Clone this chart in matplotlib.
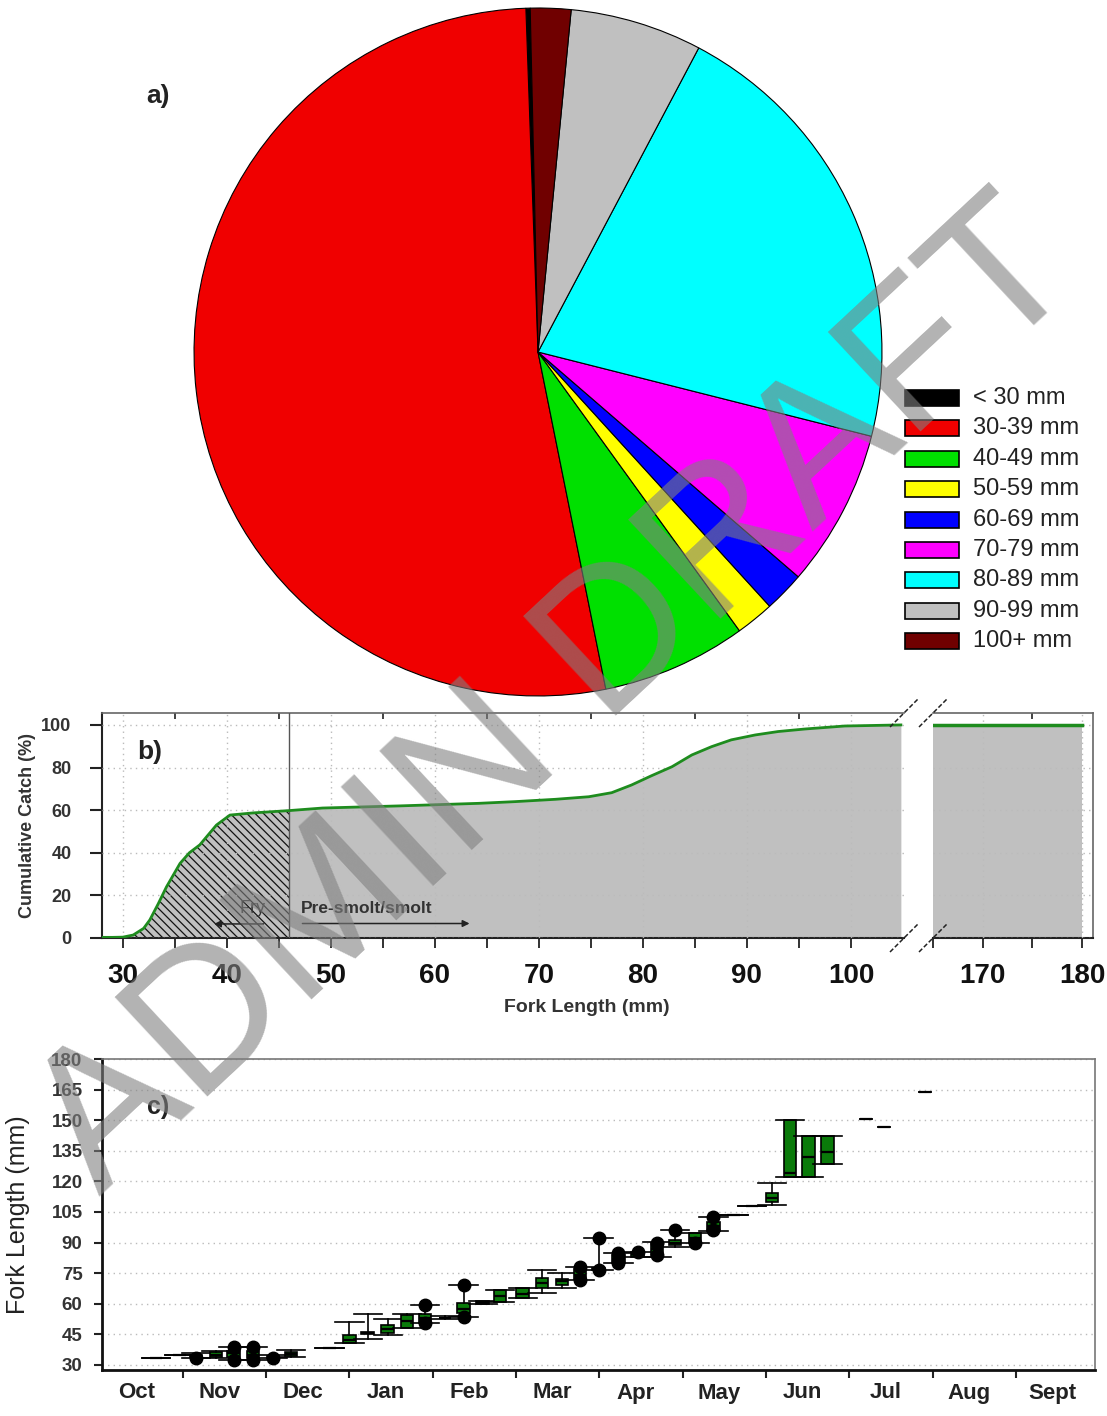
import numpy as np
import matplotlib
matplotlib.use("Agg")
import matplotlib.pyplot as plt
from matplotlib.patches import Rectangle

plt.rcParams['font.family'] = ['Liberation Sans', 'DejaVu Sans']
plt.rcParams['hatch.linewidth'] = 0.9

# ---------------- data ----------------
# a) size-class composition (%)
size_labels = ["< 30 mm", "30-39 mm", "40-49 mm", "50-59 mm", "60-69 mm",
               "70-79 mm", "80-89 mm", "90-99 mm", "100+ mm"]
size_pct = [0.2, 52.6, 6.8, 1.8, 1.9, 7.4, 21.2, 6.2, 1.9]
size_colors = ["#000000", "#f00000", "#00e000", "#ffff00", "#0000ff",
               "#ff00ff", "#00ffff", "#c0c0c0", "#700000"]

# b) cumulative catch vs fork length
cum_len = [28, 29, 30, 31, 32, 32.6, 33.4, 34.2, 35.5, 36.4, 37.4, 39.0, 40.3,
           42.5, 46.0, 49.2, 56.6, 64.2, 67.7, 71.6, 74.8, 77.0, 78.9, 80.8,
           82.8, 84.7, 86.6, 88.5, 90.8, 93.0, 95.6, 99.4, 104.8]
cum_pct = [0.3, 0.3, 0.4, 1.4, 4.5, 8.5, 16, 24, 35, 40, 43.7, 53, 57.7,
           58.7, 59.8, 61.0, 62.0, 63.2, 64.0, 65.1, 66.3, 68.2, 71.8, 76.1,
           80.4, 85.9, 89.8, 93.0, 95.3, 96.9, 98.1, 99.5, 100]
cum_len_tail = [165, 180]
cum_pct_tail = [100, 100]
fry_cutoff = 46.0

# c) weekly fork length box plots (x in months since 1 Oct)
week_pos = [0.68, 0.96, 1.16, 1.40, 1.61, 1.84, 2.08, 2.30, 2.76, 3.00, 3.22,
            3.46, 3.69, 3.91, 4.15, 4.37, 4.60, 4.81, 5.08, 5.31, 5.55, 5.77,
            5.99, 6.23, 6.46, 6.69, 6.91, 7.15, 7.37, 7.61, 7.83, 8.07, 8.29,
            8.51, 8.74, 9.20, 9.42, 9.91]
wk_lo  = [33.3, 34.7, 33.5, 33.5, 32.5, 32.5, 33.3, 34.0, 38.5, 40.6, 42.7,
          44.7, 48.0, 50.6, 52.5, 53.7, 60.0, 61.0, 62.8, 65.3, 67.7, 71.7,
          76.6, 80.0, 83.0, 83.1, 87.7, 89.6, 95.8, 103.5, 108.1, 108.4, 122.3,
          122.3, 128.5, 150.4, 146.8, 164.0]
wk_q1  = [33.3, 34.7, 34.0, 34.0, 34.0, 33.5, 33.5, 34.5, 38.5, 40.6, 45.0,
          45.7, 48.1, 50.6, 53.0, 55.3, 60.0, 61.0, 62.8, 67.7, 69.0, 72.0,
          76.6, 80.0, 83.0, 84.0, 88.8, 89.6, 95.8, 103.5, 108.1, 110.0, 122.3,
          122.3, 128.5, 150.4, 146.8, 164.0]
wk_med = [33.3, 34.7, 34.5, 35.0, 36.0, 35.0, 34.0, 35.5, 38.5, 42.0, 45.5,
          47.5, 51.5, 53.0, 53.0, 57.5, 60.5, 64.0, 65.0, 70.0, 71.0, 74.0,
          76.8, 82.0, 84.5, 86.7, 90.0, 92.0, 98.3, 103.5, 108.1, 111.6, 124.3,
          132.1, 134.2, 150.4, 146.8, 164.0]
wk_q3  = [33.3, 34.7, 35.0, 36.5, 37.0, 37.0, 34.5, 36.5, 38.5, 44.7, 46.0,
          49.6, 54.5, 55.0, 53.0, 60.2, 61.5, 66.8, 67.7, 72.6, 72.0, 77.0,
          77.5, 84.0, 85.5, 90.0, 91.3, 94.7, 100.0, 103.5, 108.1, 114.5, 150.0,
          142.3, 142.3, 150.4, 146.8, 164.0]
wk_hi  = [33.3, 34.7, 36.0, 37.0, 39.0, 39.0, 35.0, 37.3, 38.5, 51.2, 54.8,
          52.5, 55.0, 59.4, 54.0, 69.2, 61.5, 66.8, 67.7, 76.6, 75.0, 78.2,
          92.1, 84.7, 85.5, 90.4, 96.2, 94.7, 102.7, 103.5, 108.1, 119.4, 150.0,
          142.3, 142.3, 150.4, 146.8, 164.0]
wk_fliers = [[], [], [33.3], [], [32.5, 39.0], [32.5, 39.0], [33.3], [], [],
             [], [], [], [], [50.6, 59.4], [], [53.7, 69.2], [], [], [], [], [],
             [71.7, 78.2], [76.6, 92.1], [80.0, 84.7], [85.5], [84.0, 90.0],
             [96.2], [90.0], [96.2, 102.7], [], [], [], [], [], [], [], [], []]
months = ["Oct", "Nov", "Dec", "Jan", "Feb", "Mar", "Apr", "May", "Jun",
          "Jul", "Aug", "Sept"]

# ---------------- figure ----------------
W, H = 1107, 1416
fig = plt.figure(figsize=(W / 100, H / 100), dpi=100)


def rect(l, t, r, b):
    return [l / W, 1 - b / H, (r - l) / W, (b - t) / H]


def fp(x, y):
    return (x / W, 1 - y / H)


# ---- a) pie ----
axa = fig.add_axes(rect(193, 7, 883, 697))
axa.pie(size_pct, colors=size_colors, startangle=91.3, counterclock=True,
        wedgeprops=dict(edgecolor="black", linewidth=0.8))
axa.set_xlim(-1.003, 1.003)
axa.set_ylim(-1.003, 1.003)
axa.axis("off")
fig.text(*fp(158, 96), "a)", fontsize=19, fontweight="bold", color="#222",
         ha="center", va="center")

for i, (lab, col) in enumerate(zip(size_labels, size_colors)):
    yc = 398 + 30.4 * i
    fig.add_artist(Rectangle(fp(905, yc + 8), 54 / W, 16 / H,
                             transform=fig.transFigure, facecolor=col,
                             edgecolor="black", linewidth=1.2))
    fig.text(*fp(973, yc), lab, fontsize=17, color="#222", ha="left",
             va="center")

# ---- b) cumulative catch ----
ax1 = fig.add_axes(rect(102, 713, 904, 938))
ax2 = fig.add_axes(rect(933, 713, 1093, 938))
cl = np.array(cum_len, float)
cp = np.array(cum_pct, float)
ax1.fill_between(cl, cp, 0, color="#c0c0c0", lw=0, zorder=1)
xh = np.append(cl[cl < fry_cutoff], fry_cutoff)
yh = np.append(cp[cl < fry_cutoff], np.interp(fry_cutoff, cl, cp))
ax1.fill_between(xh, yh, 0, facecolor="none", edgecolor="#111",
                 hatch="\\\\\\\\", lw=0, zorder=2)
ax1.plot(cl, cp, color="#1e8c1e", lw=2, zorder=4)
ax1.axvline(fry_cutoff, color="#555", lw=1, zorder=3)
ax2.fill_between(cum_len_tail, cum_pct_tail, 0, color="#c0c0c0", lw=0, zorder=1)
ax2.plot(cum_len_tail, cum_pct_tail, color="#1e8c1e", lw=2.5, zorder=4)

ax1.set_xlim(28, 105.1)
ax2.set_xlim(165.1, 181.1)
ax1.set_xticks(np.arange(30, 101, 10))
ax1.set_xticks(np.arange(35, 100, 10), minor=True)
ax2.set_xticks([170, 180])
ax2.set_xticks([165, 175], minor=True)
for ax in (ax1, ax2):
    ax.set_ylim(0, 105.6)
    ax.grid(True, which="major", color="#bbbbbb", linestyle=(0, (1, 3)), lw=1)
    ax.set_axisbelow(False)
    for s in ax.spines.values():
        s.set_color("#666")
        s.set_linewidth(1.2)
    ax.spines["bottom"].set_color("#222")
    ax.spines["bottom"].set_linewidth(1.5)
    ax.tick_params(axis="x", which="both", direction="out", length=7,
                   width=1.3, color="#222", labelsize=20, pad=11,
                   labelcolor="#111")
    for lbl in ax.get_xticklabels():
        lbl.set_fontweight("bold")
ax1.spines["right"].set_visible(False)
ax2.spines["left"].set_visible(False)
ax1.spines["left"].set_color("#222")
ax1.spines["left"].set_linewidth(1.5)
ax1.set_yticks(np.arange(0, 101, 20))
ax1.tick_params(axis="y", direction="out", length=9, width=1.5, color="#222",
                labelsize=13, pad=13, labelcolor="#333")
for lbl in ax1.get_yticklabels():
    lbl.set_fontweight("bold")
ax2.set_yticks(np.arange(0, 101, 20))
ax2.tick_params(axis="y", left=False, labelleft=False)
for ax, mt in ((ax1, np.arange(35, 100, 10)), (ax2, [175])):
    sec = ax.secondary_xaxis("top")
    sec.set_xticks(mt)
    sec.tick_params(direction="in", length=4, width=1.2, color="#222",
                    labeltop=False)
    sec.spines["top"].set_visible(False)


# axis-break marks
def brk(px, py):
    fig.add_artist(plt.Line2D([(px - 14) / W, (px + 14) / W],
                              [1 - (py + 14) / H, 1 - (py - 14) / H],
                              transform=fig.transFigure, color="#222",
                              lw=1.1, linestyle=(0, (3, 1.5))))


brk(904, 713)
brk(904, 938)
brk(933, 713)
brk(933, 938)

ax1.annotate("", xy=(38.5, 6.6), xytext=(43.8, 6.6),
             arrowprops=dict(arrowstyle="-|>", color="#222", lw=1.1,
                             mutation_scale=10))
ax1.annotate("", xy=(63.6, 6.8), xytext=(47.0, 6.8),
             arrowprops=dict(arrowstyle="-|>", color="#222", lw=1.1,
                             mutation_scale=10))
ax1.text(42.5, 14, "Fry", fontsize=13, color="#333", ha="center",
         va="center")
ax1.text(47.1, 14, "Pre-smolt/smolt", fontsize=12.5, fontweight="bold",
         color="#333", ha="left", va="center")
fig.text(*fp(150, 752), "b)", fontsize=19, fontweight="bold", color="#222",
         ha="center", va="center")
fig.text(*fp(28, 825), "Cumulative Catch (%)", fontsize=13, fontweight="bold",
         color="#333", rotation=90, ha="center", va="center")
fig.text(*fp(587, 1008), "Fork Length (mm)", fontsize=14, fontweight="bold",
         color="#333", ha="center", va="center")

# ---- c) weekly box plots ----
ax3 = fig.add_axes(rect(102, 1059, 1095, 1370))
stats = []
for lo, q1, md, q3, hi, fl in zip(wk_lo, wk_q1, wk_med, wk_q3, wk_hi,
                                  wk_fliers):
    stats.append(dict(whislo=lo, q1=q1, med=md, q3=q3, whishi=hi,
                      fliers=fl))
capw = [0.14 if p > 9 else 0.34 for p in week_pos]
ax3.bxp(stats, positions=week_pos, widths=0.15, capwidths=capw,
        patch_artist=True, manage_ticks=False,
        boxprops=dict(facecolor="#0a7a0a", edgecolor="black", linewidth=1.2),
        medianprops=dict(color="black", linewidth=1.6),
        whiskerprops=dict(color="black", linewidth=1.2),
        capprops=dict(color="black", linewidth=1.2),
        flierprops=dict(marker="o", markerfacecolor="black",
                        markeredgecolor="black", markersize=9))
ax3.set_xlim(0.03, 11.95)
ax3.set_ylim(27.5, 180)
ax3.set_yticks(np.arange(30, 181, 15))
ax3.yaxis.grid(True, color="#bbbbbb", linestyle=(0, (1, 3)), lw=1)
ax3.set_axisbelow(True)
ax3.set_xticks(np.arange(1, 12))
ax3.set_xticklabels([])
ax3.set_xticks(np.arange(12) + 0.44, minor=True)
ax3.set_xticklabels(months, minor=True)
ax3.tick_params(axis="x", which="major", direction="out", length=6, width=1.5,
                color="#222")
ax3.tick_params(axis="x", which="minor", length=0, pad=9, labelsize=16,
                labelcolor="#222")
for lbl in ax3.get_xticklabels(minor=True):
    lbl.set_fontweight("bold")
ax3.tick_params(axis="y", direction="out", length=6, width=1.5, color="#222",
                labelsize=13.5, pad=8, labelcolor="#333")
for lbl in ax3.get_yticklabels():
    lbl.set_fontweight("bold")
for s in ("top", "right"):
    ax3.spines[s].set_color("#777")
    ax3.spines[s].set_linewidth(1.2)
for s in ("left", "bottom"):
    ax3.spines[s].set_color("#111")
    ax3.spines[s].set_linewidth(2)
fig.text(*fp(158, 1107), "c)", fontsize=18, fontweight="bold", color="#222",
         ha="center", va="center")
fig.text(*fp(18, 1215), "Fork Length (mm)", fontsize=18, color="#222",
         rotation=90, ha="center", va="center")

# watermark
fig.text(*fp(558, 700), "ADMIN DRAFT", fontsize=142, color="#808080",
         alpha=0.6, rotation=43, rotation_mode="anchor", ha="center",
         va="center", zorder=100)

fig.savefig("out.png", dpi=100)
